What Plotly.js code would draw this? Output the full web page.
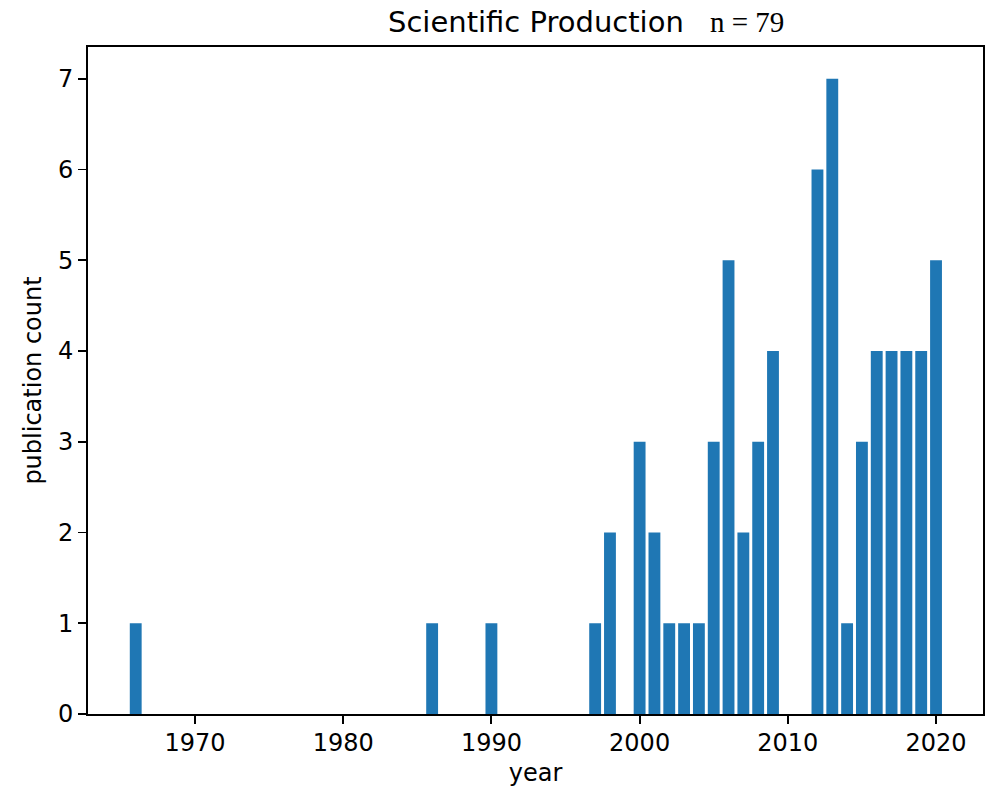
<!DOCTYPE html>
<html><head><meta charset="utf-8">
<script src="https://cdn.plot.ly/plotly-3.0.1.min.js"></script>
<style>body{margin:0;background:#fff}</style>
</head><body><div id="chart" style="width:989px;height:792px"></div>
<script>
const years = [1966, 1986, 1990, 1997, 1998, 2000, 2001, 2002, 2003, 2004, 2005, 2006, 2007, 2008, 2009, 2012, 2013, 2014, 2015, 2016, 2017, 2018, 2019, 2020];
const counts = [1, 1, 1, 1, 2, 3, 2, 1, 1, 1, 3, 5, 2, 3, 4, 6, 7, 1, 3, 4, 4, 4, 4, 5];
const xTicks = [1970, 1980, 1990, 2000, 2010, 2020];
const yTicks = [0, 1, 2, 3, 4, 5, 6, 7];
const titleText = "Scientific Production";
const nText = "n = 79";

const font = "DejaVu Sans, sans-serif";
const data = [{
  type: "bar", x: years, y: counts, width: 0.8,
  marker: {color: "#1f77b4", line: {width: 0}}, hoverinfo: "x+y"
}];
const layout = {
  width: 989, height: 792,
  margin: {l: 88, r: 6, t: 47, b: 78},
  paper_bgcolor: "#fff", plot_bgcolor: "#fff",
  showlegend: false,
  font: {family: font, size: 24, color: "#000"},
  xaxis: {
    range: [1962.78, 2023.17], tickvals: xTicks, ticktext: xTicks.map(String),
    showgrid: false, zeroline: false, showline: true, linecolor: "#000", linewidth: 1.9,
    mirror: true, ticks: "outside", ticklen: 8, tickwidth: 1.9, tickcolor: "#000",
    tickfont: {family: font, size: 24}, ticklabelstandoff: -2,
    title: {text: "year", font: {family: font, size: 24}, standoff: 8}
  },
  yaxis: {
    range: [0, 7.35], tickvals: yTicks, ticktext: yTicks.map(String),
    showgrid: false, zeroline: false, showline: true, linecolor: "#000", linewidth: 1.9,
    mirror: true, ticks: "outside", ticklen: 8, tickwidth: 1.9, tickcolor: "#000",
    tickfont: {family: font, size: 24},
    title: {text: "publication count", font: {family: font, size: 24}, standoff: 10}
  },
  annotations: [
    {text: titleText, xref: "paper", yref: "paper", x: 0.5, y: 1, yshift: 6,
     xanchor: "center", yanchor: "bottom", showarrow: false,
     font: {family: font, size: 29, color: "#000"}},
    {text: nText, xref: "paper", yref: "paper", x: (708-88)/895, y: 1, yshift: 7,
     xanchor: "left", yanchor: "bottom", showarrow: false,
     font: {family: "Liberation Serif, serif", size: 29, color: "#000"}}
  ]
};
Plotly.newPlot("chart", data, layout, {displayModeBar: false, staticPlot: true});
</script></body></html>
